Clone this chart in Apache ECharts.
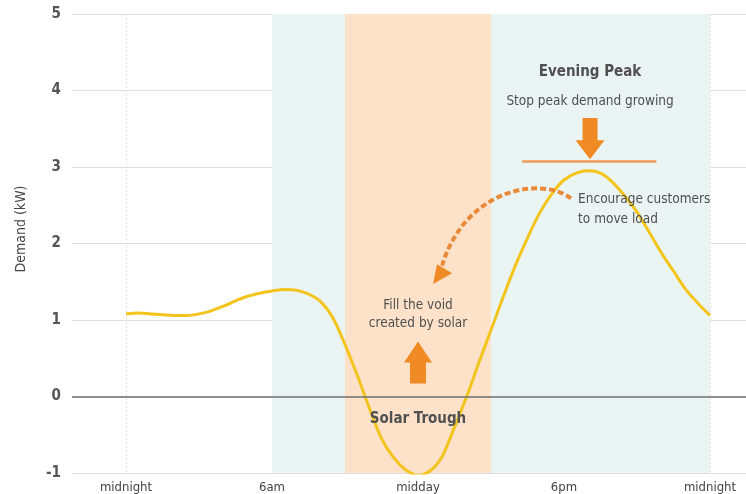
<!DOCTYPE html>
<html>
<head>
<meta charset="utf-8">
<script src="https://cdn.jsdelivr.net/npm/echarts@6/dist/echarts.min.js"></script>
<style>
html, body { margin: 0; padding: 0; background: #fff; }
#main { width: 746px; height: 494px; }
</style>
</head>
<body>
<div id="main"></div>
<script>
// demand (kW), every half hour from midnight to midnight
var hours  = [0, 0.5, 1, 1.5, 2, 2.5, 3, 3.5, 4, 4.5, 5, 5.5, 6, 6.5, 7, 7.5, 8, 8.5, 9, 9.5, 10, 10.5, 11, 11.5, 12,
              12.5, 13, 13.5, 14, 14.5, 15, 15.5, 16, 16.5, 17, 17.5, 18, 18.5, 19, 19.5, 20, 20.5, 21, 21.5, 22, 22.5, 23, 23.5, 24];
var demand = [1.08, 1.09, 1.08, 1.07, 1.06, 1.06, 1.08, 1.12, 1.18, 1.25, 1.31, 1.35, 1.38, 1.40, 1.39, 1.34, 1.24, 1.03, 0.68, 0.28, -0.15, -0.55, -0.80, -0.96, -1.03,
              -0.97, -0.78, -0.40, 0.0, 0.44, 0.87, 1.30, 1.71, 2.07, 2.40, 2.65, 2.83, 2.92, 2.95, 2.92, 2.80, 2.62, 2.41, 2.15, 1.88, 1.64, 1.40, 1.22, 1.06];

var tickHours  = [0, 6, 12, 18, 24];
var tickLabels = ['midnight', '6am', 'midday', '6pm', 'midnight'];

// shaded periods (start hour, end hour)
var bandStart = [6, 9, 15];
var bandEnd   = [9, 15, 24];

var FONT = "'DejaVu Sans Condensed', 'Liberation Sans Narrow', sans-serif";
var teal = '#eaf4f3';
var peach = '#fde1c9';
var orange = '#f08a24';
var bandColors = [teal, peach, teal];

var chart = echarts.init(document.getElementById('main'));

var curve = hours.map(function (h, i) { return [h, demand[i]]; });
var bandData = bandStart.map(function (s, i) {
  return [{ xAxis: s, itemStyle: { color: bandColors[i] } }, { xAxis: bandEnd[i] }];
});

var option = {
  animation: false,
  grid: { left: 72, right: 0, top: 14, bottom: 21, containLabel: false },
  xAxis: {
    type: 'value',
    min: -2.22,
    max: 25.48,
    z: 1,
    axisLine: { show: false },
    axisTick: { show: false, customValues: tickHours },
    axisLabel: {
      customValues: tickHours,
      margin: 8,
      color: '#444',
      fontSize: 13,
      fontFamily: FONT,
      formatter: function (v) { return tickLabels[tickHours.indexOf(v)]; }
    },
    splitLine: { show: true, lineStyle: { color: '#e4e4e4', type: [2, 2] } }
  },
  yAxis: {
    type: 'value',
    min: -1,
    max: 5,
    interval: 1,
    z: 1,
    name: 'Demand (kW)',
    nameLocation: 'middle',
    nameRotate: 90,
    nameGap: 44,
    nameTextStyle: { color: '#444', fontSize: 14, fontFamily: FONT, padding: [0, 0, 0, 29] },
    axisLine: { show: false },
    axisTick: { show: false },
    axisLabel: { color: '#555', fontSize: 15, fontWeight: 'bold', fontFamily: FONT, margin: 11 },
    splitLine: { lineStyle: { color: '#dedede', width: 1 } }
  },
  series: [
    {
      type: 'line',
      z: 0,
      data: [],
      silent: true,
      markArea: { silent: true, data: bandData }
    },
    {
      type: 'line',
      z: 3,
      data: curve,
      smooth: 0.3,
      showSymbol: false,
      lineStyle: { color: '#f3c41c', width: 3 },
      markLine: {
        silent: true,
        symbol: 'none',
        label: { show: false },
        data: [
          { yAxis: 0, lineStyle: { color: '#6e6e6e', width: 1.6, type: 'solid' } },
          [
            { coord: [16.28, 3.07], lineStyle: { color: '#ef9b58', width: 2.5, type: 'solid' } },
            { coord: [21.8, 3.07] }
          ]
        ]
      }
    }
  ]
};

chart.setOption(option);

function px(h, v) { return chart.convertToPixel({ gridIndex: 0 }, [h, v]); }

function label(text, h, v, size, bold, align) {
  var p = px(h, v);
  return {
    type: 'text', z: 10,
    style: {
      text: text, x: p[0], y: p[1],
      fill: '#505050',
      font: (bold ? 'bold ' : '') + size + 'px ' + FONT,
      align: align || 'center', verticalAlign: 'middle'
    }
  };
}

function downArrow(h, vTop, vTip) {
  var a = px(h, vTop), b = px(h, vTip);
  var x = a[0], headY = b[1] - 19;
  return {
    type: 'polygon', z: 10,
    shape: { points: [[x - 7.5, a[1]], [x + 7.5, a[1]], [x + 7.5, headY], [x + 14.5, headY], [x, b[1]], [x - 14.5, headY], [x - 7.5, headY]] },
    style: { fill: orange }
  };
}

function upArrow(h, vTip, vBottom) {
  var a = px(h, vTip), b = px(h, vBottom);
  var x = a[0], headY = a[1] + 21;
  return {
    type: 'polygon', z: 10,
    shape: { points: [[x, a[1]], [x + 14, headY], [x + 8, headY], [x + 8, b[1]], [x - 8, b[1]], [x - 8, headY], [x - 14, headY]] },
    style: { fill: orange }
  };
}

var p0 = px(18.29, 2.59), c1 = px(17.02, 2.89), c2 = px(13.93, 2.71), p3 = px(12.99, 1.71);
var tip = px(12.62, 1.47), b1 = px(12.78, 1.73), b2 = px(13.40, 1.61);

chart.setOption({
  graphic: [
    label('Evening Peak', 19.07, 4.24, 15, true),
    label('Stop peak demand growing', 19.07, 3.85, 13.5, false),
    downArrow(19.07, 3.64, 3.10),
    label('Encourage customers', 18.58, 2.57, 13.5, false, 'left'),
    label('to move load', 18.58, 2.32, 13.5, false, 'left'),
    {
      type: 'bezierCurve', z: 10,
      shape: { x1: p0[0], y1: p0[1], cpx1: c1[0], cpy1: c1[1], cpx2: c2[0], cpy2: c2[1], x2: p3[0], y2: p3[1] },
      style: { stroke: '#e98a3a', lineWidth: 4, lineDash: [6, 3], fill: null }
    },
    { type: 'polygon', z: 10, shape: { points: [tip, b1, b2] }, style: { fill: orange } },
    label('Fill the void', 12, 1.19, 13.5, false),
    label('created by solar', 12, 0.95, 13.5, false),
    upArrow(12, 0.72, 0.17),
    label('Solar Trough', 12, -0.3, 15, true)
  ]
});
</script>
</body>
</html>
